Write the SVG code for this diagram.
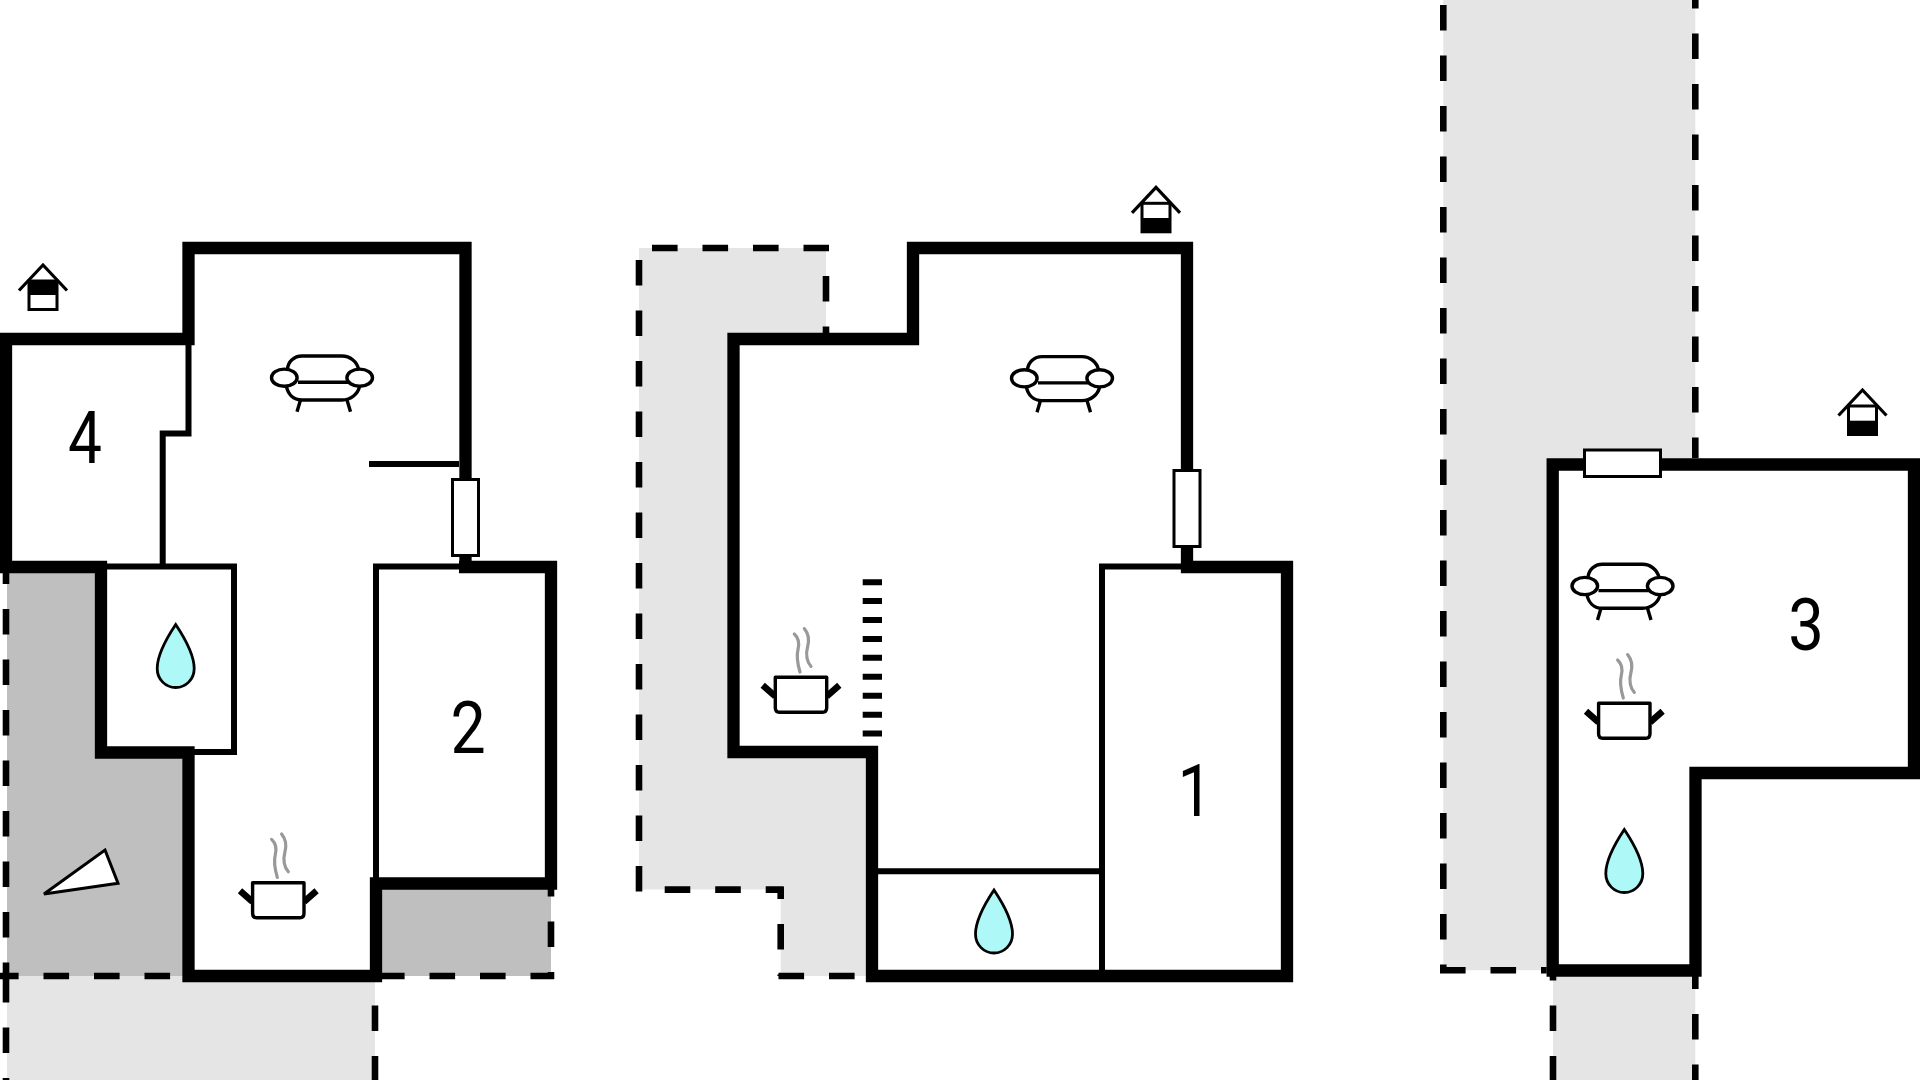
<svg xmlns="http://www.w3.org/2000/svg" xmlns:xlink="http://www.w3.org/1999/xlink" width="1920" height="1080" viewBox="0 0 1920 1080">
<style>
.wall{fill:none;stroke:#000;stroke-width:12.3;stroke-linecap:butt;stroke-linejoin:miter}
.thin{fill:none;stroke:#000;stroke-width:6;stroke-linecap:butt;stroke-linejoin:miter}
.dash{fill:none;stroke:#000;stroke-width:6.6;stroke-dasharray:25.6 24.9}
.dark{fill:#bfbfbf}
.light{fill:#e5e5e5}
.win{fill:#fff;stroke:#000;stroke-width:3}
.ico{fill:#fff;stroke:#000;stroke-width:3.4;stroke-linecap:butt;stroke-linejoin:round}
.drop{fill:#aef8f8;stroke:#000;stroke-width:2.8}
.steam{fill:none;stroke:#999;stroke-width:3.2;stroke-linecap:round}
.num{font-family:Roboto,"Liberation Sans",sans-serif;font-size:72px;text-anchor:middle;fill:#000}
</style>
<defs>
<g id="sofa">
<path class="ico" d="M-34.5,-8.5C-34,-16 -28,-21.7 -20,-21.7H20C28,-21.7 35,-16 36.5,-8.5M-35.5,9C-34,16 -29,22.3 -20,22.3H20C29,22.3 36,16 37.5,9"/>
<path class="ico" d="M-24,4.6H26M-21.5,22.3L-25,34M25,22.3L28.5,34"/>
<ellipse class="ico" cx="-37.7" cy="0" rx="12.8" ry="8.6"/>
<ellipse class="ico" cx="37.7" cy="0" rx="12.8" ry="8.6"/>
</g>
<g id="pot">
<path class="steam" d="M-6.7,-43.3C-2,-39 -1.5,-34 -3,-28C-5,-20 -3,-12 -1,-5.3"/>
<path class="steam" d="M3.3,-48.7C8,-43 8.5,-37 6.5,-30C4.5,-23 6,-15 10,-11"/>
<path class="ico" style="fill:none;stroke-width:6.5" d="M-38.3,8L-25.8,19M38.3,8L25.8,19"/>
<path class="ico" d="M-25.7,0H25.7V30.5Q25.7,35 21.5,35H-21.5Q-25.7,35 -25.7,30.5Z"/>
</g>
<path id="drop" class="drop" d="M0,0C6,9 18.5,28 18.5,44C18.5,55 10,63 0,63C-10,63 -18.5,55 -18.5,44C-18.5,28 -6,9 0,0Z"/>
<g id="house">
<path d="M-24,25.5L0,0L24,25.5" fill="none" stroke="#000" stroke-width="3.2"/>
<rect x="-14" y="16" width="28" height="28.5" fill="#fff" stroke="#000" stroke-width="3"/>
</g>
</defs>
<rect width="1920" height="1080" fill="#fff"/>

<g id="terrain">
<path class="dark" d="M7,567H101V752H188V976H7Z"/>
<path class="dark" d="M376,883H551V976H376Z"/>
<path class="light" d="M7,976H375V1080H7Z"/>
<path class="light" d="M639,248H826V339H733V752H872V976H780.7V889.6H639Z"/>
<path class="light" d="M1443.3,0H1695.3V464H1552V970.3H1443.3Z"/>
<path class="light" d="M1553,970H1695.3V1080H1553Z"/>
</g>

<g id="connectors">
<path class="dash" d="M6,558.5V976M6,977V1080"/>
<path class="dash" d="M-7,976H188M379,976H554M551,871V979M375,1005.5V1080"/>
<path class="dash" d="M639,260V892M652,248H829M826,276V333M664.7,889.6H783.6M780.7,886.7V899M780.7,924V976M778.5,976H866"/>
<path class="dash" d="M1443.3,5V973M1695.3,-17V458M1440,970.3H1546.7"/>
<path class="dash" d="M1553,955V1080M1695.3,963.5V1080"/>
</g>

<g id="building-left">
<path class="wall" d="M465.5,479V248H188.5V339H0M6,333V567H101V752.5H188.5V976H376V883.5H551V567H459"/>
<path class="wall" d="M465.5,556V573"/>
<path class="thin" d="M188.5,345V433.4H162.7V566M107,566.5H234V752H188M459,566.5H376V880M369,464H459"/>
<rect class="win" x="452.5" y="479.5" width="26" height="76"/>
</g>

<g id="building-middle">
<path class="wall" d="M1187,470V248H913V339H733.5V752H872V976H1287V567H1181"/>
<path class="wall" d="M1187,547V573"/>
<path class="thin" d="M1181,566.5H1102V976M872,871.2H1102"/>
<path d="M862.7,582.3H882M862.7,601H882M862.7,620H882M862.7,639H882M862.7,657.8H882M862.7,676.7H882M862.7,695.7H882M862.7,714.7H882M862.7,733.5H882" fill="none" stroke="#000" stroke-width="6"/>
<rect class="win" x="1174" y="470.5" width="26" height="76"/>
</g>

<g id="building-right">
<path class="wall" d="M1926,464.5H1552.7V970.5H1695.5V773H1914V464.5"/>
<rect class="win" x="1584.5" y="450" width="76" height="26.5"/>
</g>

<g id="room-4"><text class="num" transform="translate(85 463) scale(.84 1)">4</text></g>
<g id="room-2"><text class="num" transform="translate(468 752.5) scale(.87 1)">2</text></g>
<g id="room-1"><text class="num" transform="translate(1195 816) scale(.85 1)">1</text></g>
<g id="room-3"><text class="num" transform="translate(1806 650) scale(.88 1)">3</text></g>

<g id="house-left"><use href="#house" x="43" y="265"/><rect x="28" y="281" width="30" height="14"/></g>
<g id="house-middle"><use href="#house" x="1156" y="187.3"/><rect x="1141" y="218" width="30" height="14"/></g>
<g id="house-right"><use href="#house" x="1862.5" y="390"/><rect x="1847.5" y="420.7" width="30" height="14"/></g>

<g id="sofa-left"><use href="#sofa" x="322" y="377.7"/></g>
<g id="sofa-middle"><use href="#sofa" x="1062" y="378.3"/></g>
<g id="sofa-right"><use href="#sofa" x="1622.5" y="586"/></g>

<g id="pot-left"><use href="#pot" x="278.3" y="882.7"/></g>
<g id="pot-middle"><use href="#pot" x="801" y="677.3"/></g>
<g id="pot-right"><use href="#pot" x="1624.3" y="703.3"/></g>

<g id="drop-left"><use href="#drop" x="175.7" y="624.5"/></g>
<g id="drop-middle"><use href="#drop" x="994" y="890"/></g>
<g id="drop-right"><use href="#drop" x="1624.3" y="829.5"/></g>

<g id="car"><path d="M105,850L118,883.3L44,894Z" fill="#fff" stroke="#000" stroke-width="3" stroke-linejoin="miter"/></g>
</svg>
